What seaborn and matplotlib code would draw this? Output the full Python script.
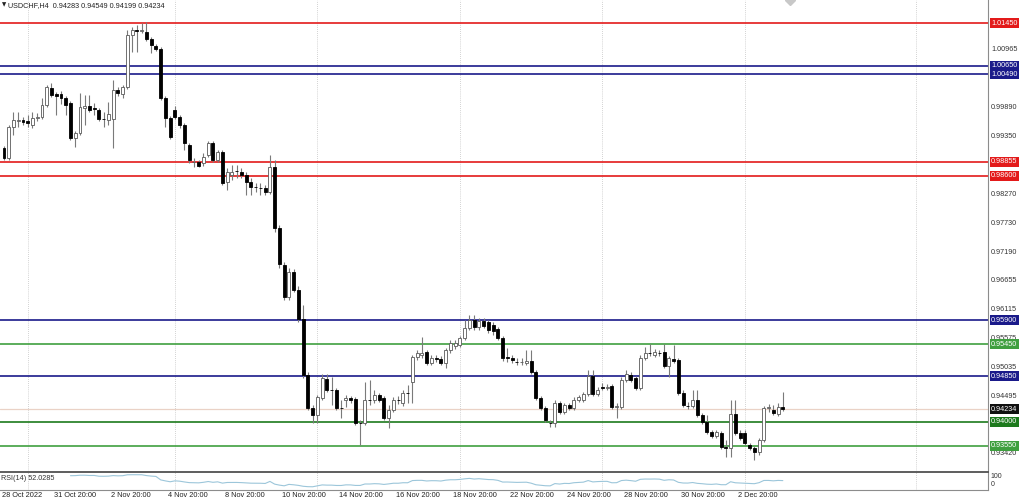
import numpy as np
import pandas as pd
import seaborn as sns
import matplotlib.pyplot as plt
import matplotlib.transforms as mtransforms

# USDCHF H4 candles (index = bar number from 28 Oct 00:00)
opens = [0.9912, 0.9893, 0.9951, 0.9962, 0.9964, 0.9962, 0.9955, 0.9968, 0.9969, 0.9992,
         1.0024, 1.0012, 1.0012, 1.0005, 0.9996, 0.9930, 0.9940, 0.9986, 0.9990, 0.9986,
         0.9983, 0.9966, 0.9964, 0.9966, 1.0020, 1.0012, 1.0026, 1.0123, 1.0132, 1.0131,
         1.0128, 1.0115, 1.0102, 1.0097, 1.0005, 0.9968, 0.9983, 0.9969, 0.9955, 0.9917,
         0.9885, 0.9886, 0.9884, 0.9899, 0.9921, 0.9889, 0.9904, 0.9848, 0.9861, 0.9869,
         0.9867, 0.9861, 0.9848, 0.9839, 0.9837, 0.9836, 0.9829, 0.9876, 0.9762, 0.9693,
         0.9633, 0.9680, 0.9646, 0.9592, 0.9487, 0.9426, 0.9413, 0.9445, 0.9480, 0.9460,
         0.9459, 0.9426, 0.9441, 0.9445, 0.9443, 0.9398, 0.9397, 0.9441, 0.9440, 0.9450,
         0.9445, 0.9407, 0.9422, 0.9441, 0.9435, 0.9454, 0.9474, 0.9521, 0.9525, 0.9531,
         0.9510, 0.9519, 0.9518, 0.9510, 0.9534, 0.9542, 0.9544, 0.9557, 0.9575, 0.9590,
         0.9577, 0.9588, 0.9587, 0.9581, 0.9573, 0.9557, 0.9521, 0.9520, 0.9512, 0.9511,
         0.9510, 0.9514, 0.9493, 0.9445, 0.9426, 0.9398, 0.9397, 0.9435, 0.9418, 0.9431,
         0.9426, 0.9441, 0.9441, 0.9452, 0.9486, 0.9452, 0.9465, 0.9464, 0.9467, 0.9428,
         0.9428, 0.9478, 0.9487, 0.9482, 0.9463, 0.9519, 0.9529, 0.9525, 0.9529, 0.9531,
         0.9504, 0.9517, 0.9516, 0.9454, 0.9430, 0.9429, 0.9441, 0.9413, 0.9400, 0.9381,
         0.9374, 0.9379, 0.9353, 0.9352, 0.9415, 0.9379, 0.9379, 0.9357, 0.9351, 0.9344,
         0.9366, 0.9426, 0.9422, 0.9415, 0.94283]
highs = [0.9915, 0.9955, 0.9979, 0.9979, 0.9969, 0.9973, 0.9979, 0.9977, 1.0005, 1.0029,
         1.0033, 1.0016, 1.0018, 1.0009, 0.9999, 0.9943, 1.0014, 1.0011, 1.0011, 0.9996,
         0.9986, 0.9979, 0.9997, 1.0039, 1.0026, 1.0029, 1.0132, 1.0138, 1.0141, 1.0145,
         1.0147, 1.0119, 1.0106, 1.0100, 1.0009, 0.9971, 0.9990, 0.9973, 0.9958, 0.9921,
         0.9893, 0.9889, 0.9902, 0.9925, 0.9925, 0.9908, 0.9908, 0.9874, 0.9880, 0.9880,
         0.9874, 0.9867, 0.9856, 0.9846, 0.9846, 0.9842, 0.9899, 0.9889, 0.9768, 0.9699,
         0.9687, 0.9686, 0.9654, 0.9618, 0.9493, 0.9431, 0.9450, 0.9489, 0.9489, 0.9484,
         0.9463, 0.9441, 0.9450, 0.9448, 0.9446, 0.9403, 0.9474, 0.9478, 0.9460, 0.9454,
         0.9448, 0.9431, 0.9446, 0.9448, 0.9460, 0.9469, 0.9525, 0.9534, 0.9559, 0.9534,
         0.9525, 0.9525, 0.9523, 0.9538, 0.9553, 0.9553, 0.9560, 0.9590, 0.9600, 0.9600,
         0.9594, 0.9594, 0.9590, 0.9587, 0.9577, 0.9560, 0.9538, 0.9525, 0.9519, 0.9519,
         0.9534, 0.9534, 0.9497, 0.9448, 0.9430, 0.9403, 0.9441, 0.9439, 0.9435, 0.9435,
         0.9446, 0.9450, 0.9456, 0.9497, 0.9497, 0.9465, 0.9473, 0.9471, 0.9471, 0.9435,
         0.9484, 0.9497, 0.9493, 0.9486, 0.9525, 0.9540, 0.9545, 0.9536, 0.9534, 0.9545,
         0.9523, 0.9544, 0.9519, 0.9460, 0.9437, 0.9460, 0.9460, 0.9416, 0.9413, 0.9385,
         0.9385, 0.9383, 0.9366, 0.9441, 0.9441, 0.9385, 0.9385, 0.9360, 0.9355, 0.9370,
         0.9430, 0.9433, 0.9431, 0.9435, 0.94549]
lows = [0.9889, 0.9889, 0.9936, 0.9951, 0.9955, 0.9951, 0.9949, 0.9962, 0.9966, 0.9988,
        1.0007, 0.9973, 0.9994, 0.9973, 0.9927, 0.9913, 0.9936, 0.9955, 0.9979, 0.9973,
        0.9962, 0.9951, 0.9955, 0.9912, 1.0009, 1.0005, 1.0022, 1.0091, 1.0091, 1.0126,
        1.0111, 1.0089, 1.0093, 1.0001, 0.9951, 0.9928, 0.9966, 0.9949, 0.9908, 0.9884,
        0.9876, 0.9876, 0.9878, 0.9895, 0.9885, 0.9885, 0.9842, 0.9833, 0.9852, 0.9856,
        0.9856, 0.9824, 0.9824, 0.9829, 0.9824, 0.9824, 0.9826, 0.9755, 0.9687, 0.9628,
        0.9628, 0.9643, 0.9587, 0.9482, 0.9422, 0.9398, 0.9398, 0.9441, 0.9456, 0.9431,
        0.9422, 0.9407, 0.9428, 0.9435, 0.9394, 0.9357, 0.9394, 0.9431, 0.9435, 0.9437,
        0.9403, 0.9388, 0.9418, 0.9433, 0.9430, 0.9435, 0.9435, 0.9516, 0.9519, 0.9506,
        0.9506, 0.9512, 0.9506, 0.9501, 0.9529, 0.9536, 0.9540, 0.9553, 0.9572, 0.9572,
        0.9572, 0.9575, 0.9566, 0.9562, 0.9553, 0.9514, 0.9512, 0.9510, 0.9506, 0.9506,
        0.9506, 0.9489, 0.9441, 0.9422, 0.9400, 0.9390, 0.9390, 0.9415, 0.9415, 0.9422,
        0.9422, 0.9437, 0.9437, 0.9448, 0.9448, 0.9448, 0.9460, 0.9460, 0.9424, 0.9407,
        0.9424, 0.9474, 0.9474, 0.9460, 0.9460, 0.9516, 0.9523, 0.9521, 0.9523, 0.9501,
        0.9484, 0.9510, 0.9450, 0.9428, 0.9424, 0.9426, 0.9409, 0.9396, 0.9377, 0.9370,
        0.9370, 0.9349, 0.9334, 0.9334, 0.9376, 0.9366, 0.9357, 0.9347, 0.9329, 0.9338,
        0.9362, 0.9418, 0.9413, 0.9411, 0.94199]
closes = [0.9893, 0.9951, 0.9964, 0.9964, 0.9960, 0.9958, 0.9968, 0.9969, 0.9992, 1.0026,
          1.0011, 1.0009, 1.0005, 0.9992, 0.9930, 0.9940, 0.9988, 0.9990, 0.9983, 0.9985,
          0.9966, 0.9965, 0.9975, 1.0020, 1.0014, 1.0026, 1.0123, 1.0132, 1.0131, 1.0132,
          1.0115, 1.0104, 1.0097, 1.0005, 0.9968, 0.9932, 0.9969, 0.9955, 0.9921, 0.9889,
          0.9886, 0.9878, 0.9895, 0.9921, 0.9889, 0.9904, 0.9846, 0.9867, 0.9867, 0.9868,
          0.9861, 0.9848, 0.9839, 0.9838, 0.9836, 0.9829, 0.9876, 0.9762, 0.9695, 0.9633,
          0.9680, 0.9646, 0.9592, 0.9487, 0.9426, 0.9413, 0.9446, 0.9482, 0.9460, 0.9459,
          0.9426, 0.9425, 0.9445, 0.9441, 0.9398, 0.9397, 0.9441, 0.9440, 0.9450, 0.9441,
          0.9407, 0.9422, 0.9441, 0.9440, 0.9454, 0.9453, 0.9521, 0.9529, 0.9529, 0.9510,
          0.9519, 0.9518, 0.9510, 0.9534, 0.9547, 0.9547, 0.9557, 0.9575, 0.9590, 0.9577,
          0.9588, 0.9579, 0.9572, 0.9570, 0.9557, 0.9519, 0.9520, 0.9516, 0.9511, 0.9512,
          0.9514, 0.9493, 0.9445, 0.9426, 0.9403, 0.9397, 0.9435, 0.9418, 0.9431, 0.9426,
          0.9441, 0.9446, 0.9452, 0.9486, 0.9452, 0.9460, 0.9464, 0.9465, 0.9428, 0.9430,
          0.9478, 0.9489, 0.9478, 0.9463, 0.9519, 0.9529, 0.9528, 0.9531, 0.9528, 0.9504,
          0.9519, 0.9514, 0.9454, 0.9431, 0.9429, 0.9441, 0.9413, 0.9400, 0.9381, 0.9374,
          0.9381, 0.9353, 0.9352, 0.9415, 0.9379, 0.9370, 0.9360, 0.9351, 0.9344, 0.9366,
          0.9426, 0.9427, 0.9416, 0.9428, 0.94234]

# horizontal support / resistance levels
levels_red = [1.01450, 0.98855, 0.98600]
levels_blue = [1.00650, 1.00490, 0.95900, 0.94850]
levels_green = [0.95450, 0.93550]
levels_darkgreen = [0.94000]
last_price = 0.94234

price_ticks = [1.01505, 1.00965, 0.99890, 0.99350, 0.98270, 0.97730, 0.97190,
               0.96655, 0.96115, 0.95575, 0.95035, 0.94495, 0.93420]

date_idx = [0, 11, 23, 35, 47, 59, 71, 83, 95, 107, 119, 131, 143, 155]
date_labels = ["28 Oct 2022", "31 Oct 20:00", "2 Nov 20:00", "4 Nov 20:00", "8 Nov 20:00",
               "10 Nov 20:00", "14 Nov 20:00", "16 Nov 20:00", "18 Nov 20:00",
               "22 Nov 20:00", "24 Nov 20:00", "28 Nov 20:00", "30 Nov 20:00", "2 Dec 20:00"]
week_idx = [5, 36, 66, 96, 126, 156, 192]

df = pd.DataFrame({"open": opens, "high": highs, "low": lows, "close": closes})
df["bar"] = np.arange(len(df))

# RSI(14), Wilder smoothing of the closes
delta = df["close"].diff()
gain = delta.clip(lower=0).ewm(alpha=1 / 14, adjust=False, min_periods=14).mean()
loss = (-delta.clip(upper=0)).ewm(alpha=1 / 14, adjust=False, min_periods=14).mean()
df["rsi"] = 100 - 100 / (1 + gain / loss)

sns.set_theme(style="white")
plt.rcParams['font.family'] = ['Liberation Sans', 'DejaVu Sans']

W, H = 1024, 500
fig = plt.figure(figsize=(W / 100, H / 100), dpi=100)


def px_box(left, top, right, bottom):
    return [left / W, 1 - bottom / H, (right - left) / W, (bottom - top) / H]


ax = fig.add_axes(px_box(0, 0, 988, 471))
rsi_ax = fig.add_axes(px_box(0, 472, 988, 490), sharex=ax)

# candles
up = df[df["close"] >= df["open"]]
dn = df[df["close"] < df["open"]]
ax.vlines(df["bar"], df["low"], df["high"], color="#7a7a7a", lw=0.8, zorder=3)
ax.bar(up["bar"], up["close"] - up["open"], bottom=up["open"], width=0.62,
       color="white", edgecolor="#5a5a5a", linewidth=0.6, zorder=4)
ax.bar(dn["bar"], dn["open"] - dn["close"], bottom=dn["close"], width=0.62,
       color="black", edgecolor="black", linewidth=0.6, zorder=4)

# levels
level_sets = [(levels_red, "#e31a1a"), (levels_blue, "#1a1a8a"),
              (levels_green, "#3f9f3f"), (levels_darkgreen, "#1d7a1d")]
for prices, col in level_sets:
    for p in prices:
        ax.axhline(p, color=col, lw=1.2, zorder=2)
        ax.text(1.003, p, f"{p:.5f}", transform=ax.get_yaxis_transform(),
                ha="left", va="center", fontsize=5.2, color="white", zorder=10,
                bbox=dict(boxstyle="square,pad=0.2", fc=col, ec="none"), clip_on=False)
ax.axhline(last_price, color="#ead2c6", lw=0.9, zorder=1)
ax.text(1.003, last_price, f"{last_price:.5f}", transform=ax.get_yaxis_transform(),
        ha="left", va="center", fontsize=5.2, color="white", zorder=10,
        bbox=dict(boxstyle="square,pad=0.2", fc="#111111", ec="none"), clip_on=False)

for a in (ax, rsi_ax):
    for w in week_idx:
        a.axvline(w, color="#c4c4c4", lw=0.6, ls=(0, (1, 1.5)), zorder=0)

ax.set_xlim(-0.84, 207.2)
ax.set_ylim(0.93082, 1.0188)
ax.yaxis.tick_right()
ax.set_yticks(price_ticks)
ax.set_yticklabels([f"{t:.5f}" for t in price_ticks])
ax.tick_params(axis="y", length=0, pad=2.3, labelsize=5.2, labelcolor="#333333")
ax.tick_params(axis="x", bottom=False, labelbottom=False)
for s in ("top", "left", "bottom"):
    ax.spines[s].set_visible(False)
ax.spines["right"].set_color("#8c8c8c")
ax.spines["right"].set_linewidth(0.8)

ax.text(0.002, 0.989, "\u25bc", transform=ax.transAxes, fontsize=4,
        family=["DejaVu Sans"], color="#222222", va="center")
ax.text(0.008, 0.989, "USDCHF,H4  0.94283 0.94549 0.94199 0.94234",
        transform=ax.transAxes, fontsize=5.2, color="#222222", va="center")
ax.plot([165.5], [1.0188], marker="D", ms=5, color="#c8c8c8", clip_on=False, zorder=1)

# RSI panel
sns.lineplot(data=df, x="bar", y="rsi", ax=rsi_ax, color="#9cc6da", lw=0.8)
rsi_ax.set_ylim(0, 100)
rsi_ax.set_yticks([])
rsi_ax.set_xlabel("")
rsi_ax.set_ylabel("")
rsi_ax.spines["left"].set_visible(False)
rsi_ax.spines["top"].set_color("#505050")
rsi_ax.spines["top"].set_linewidth(1.3)
rsi_ax.spines["bottom"].set_color("#8c8c8c")
rsi_ax.spines["bottom"].set_linewidth(0.8)
rsi_ax.spines["right"].set_color("#8c8c8c")
rsi_ax.spines["right"].set_linewidth(0.8)
rsi_ax.text(0.001, 0.62, f"RSI(14) 52.0285", transform=rsi_ax.transAxes,
            fontsize=5.2, color="#333333", va="center")
rsi_ax.text(1.003, 0.75, "100", transform=rsi_ax.transAxes, fontsize=5, color="#333333", va="center")
rsi_ax.text(1.003, 0.28, "0", transform=rsi_ax.transAxes, fontsize=5, color="#333333", va="center")

rsi_ax.set_xticks(date_idx)
rsi_ax.set_xticklabels(date_labels)
rsi_ax.tick_params(axis="x", length=0, pad=1.5, labelsize=5.3, labelcolor="#222222")
offset = mtransforms.ScaledTranslation(-2 / 100, 0, fig.dpi_scale_trans)
for lab in rsi_ax.get_xticklabels():
    lab.set_horizontalalignment("left")
    lab.set_transform(lab.get_transform() + offset)

fig.savefig("out.png", dpi=100, facecolor="white")
